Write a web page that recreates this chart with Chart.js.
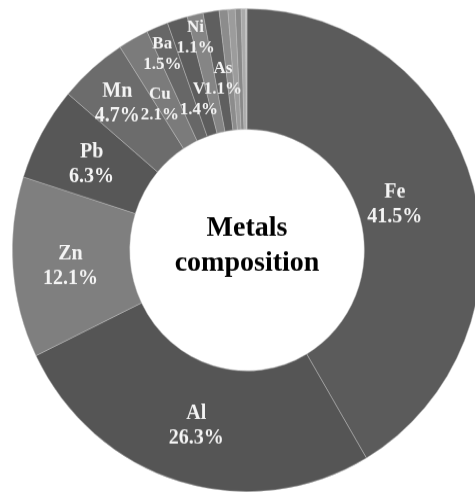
<!DOCTYPE html>
<html>
<head>
<meta charset="utf-8">
<script src="https://cdn.jsdelivr.net/npm/chart.js@4.4.1/dist/chart.umd.min.js"></script>
<style>
  html, body { margin: 0; padding: 0; background: #fff; width: 475px; height: 492px; overflow: hidden; }
  #wrap { position: absolute; left: 0; top: 0; width: 490px; height: 478px; transform: scaleY(1.0293); transform-origin: 0 0; }
</style>
</head>
<body>
<div id="wrap"><canvas id="chart"></canvas></div>
<script>
// Metal shares (%) in the sample
const metals = ['Fe', 'Al', 'Zn', 'Pb', 'Mn', 'Cu', 'Ba', 'V', 'Ni', 'As', 'Cr', 'Sr', 'Co', 'Mo', 'Cd'];
const shares = [41.5, 26.3, 12.1, 6.3, 4.7, 2.1, 1.5, 1.4, 1.1, 1.1, 0.6, 0.5, 0.4, 0.3, 0.1];
const labelled = ['Fe', 'Al', 'Zn', 'Pb', 'Mn', 'Cu', 'Ba', 'V', 'Ni', 'As'];
const centerTitle = ['Metals', 'composition'];

const sliceColors = ['#5b5b5b', '#555555', '#7f7f7f', '#575757', '#6c6c6c', '#7b7b7b', '#676767',
  '#5d5d5d', '#858585', '#5f5f5f', '#8c8c8c', '#9c9c9c', '#8a8a8a', '#aaaaaa', '#c4c4c4'];

// label placement: depth across the ring (0 inner edge, 1 outer edge),
// a small turn (degrees) away from the slice middle, and a font size
const labelLayout = {
  Fe: { depth: 0.32, turn: -2.1, size: 20 },
  Al: { depth: 0.50, turn: 0, size: 20 },
  Zn: { depth: 0.51, turn: -0.4, size: 20 },
  Pb: { depth: 0.51, turn: -0.3, size: 20 },
  Mn: { depth: 0.655, turn: -0.7, size: 20 },
  Cu: { depth: 0.43, turn: -2.3, size: 17 },
  Ba: { depth: 0.79, turn: -1.3, size: 17 },
  V:  { depth: 0.33, turn: -0.65, size: 17 },
  Ni: { depth: 0.83, turn: -1.1, size: 17 },
  As: { depth: 0.45, turn: 0.7, size: 17 }
};

const serif = '"Liberation Serif", "Times New Roman", serif';

const sliceLabels = {
  id: 'sliceLabels',
  afterDatasetsDraw(chart) {
    const ctx = chart.ctx;
    const meta = chart.getDatasetMeta(0);
    ctx.save();
    ctx.fillStyle = '#f4f4f4';
    ctx.textAlign = 'center';
    ctx.textBaseline = 'middle';
    meta.data.forEach((arc, i) => {
      const name = metals[i];
      if (!labelled.includes(name)) return;
      const L = labelLayout[name];
      const p = arc.getProps(['x', 'y', 'startAngle', 'endAngle', 'innerRadius', 'outerRadius'], true);
      const mid = (p.startAngle + p.endAngle) / 2 + L.turn * Math.PI / 180;
      const r = p.innerRadius + L.depth * (p.outerRadius - p.innerRadius);
      const x = p.x + Math.cos(mid) * r;
      const y = p.y + Math.sin(mid) * r + 2;
      const half = L.size * 0.6;
      ctx.font = 'bold ' + L.size + 'px ' + serif;
      ctx.fillText(name, x, y - half);
      ctx.fillText(shares[i].toFixed(1) + '%', x, y + half);
    });
    ctx.restore();
  }
};

const centerText = {
  id: 'centerText',
  afterDatasetsDraw(chart) {
    const ctx = chart.ctx;
    const arc = chart.getDatasetMeta(0).data[0];
    ctx.save();
    ctx.font = 'bold 28px ' + serif;
    ctx.fillStyle = '#000';
    ctx.textAlign = 'center';
    ctx.textBaseline = 'middle';
    ctx.fillText(centerTitle[0], arc.x, arc.y - 21);
    ctx.fillText(centerTitle[1], arc.x, arc.y + 13);
    ctx.restore();
  }
};

new Chart(document.getElementById('chart'), {
  type: 'doughnut',
  data: {
    labels: metals,
    datasets: [{
      data: shares,
      backgroundColor: sliceColors,
      borderColor: 'rgba(190,190,190,0.55)',
      borderWidth: 0.8
    }]
  },
  options: {
    responsive: true,
    maintainAspectRatio: false,
    animation: false,
    cutout: '50%',
    layout: { padding: { left: 12, right: 8, top: 8, bottom: 0 } },
    plugins: {
      legend: { display: false },
      tooltip: { enabled: false }
    }
  },
  plugins: [sliceLabels, centerText]
});
</script>
</body>
</html>
